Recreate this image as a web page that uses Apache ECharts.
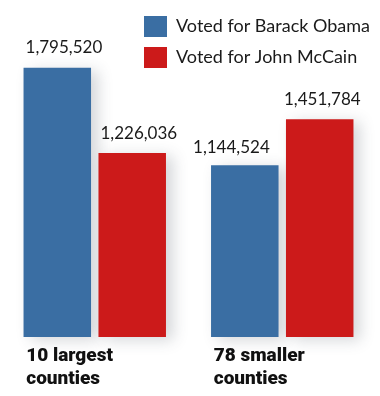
<!DOCTYPE html>
<html><head><meta charset="utf-8">
<script src="https://cdn.jsdelivr.net/npm/echarts@6/dist/echarts.min.js"></script>
<style>html,body{margin:0;padding:0;background:#fff}#c{width:380px;height:396px}</style>
</head><body><div id="c"></div>
<script>
var categories = ['10 largest\ncounties', '78 smaller\ncounties'];
var seriesNames = ['Voted for Barack Obama', 'Voted for John McCain'];
var obamaVotes = [1795520, 1144524];
var mccainVotes = [1226036, 1451784];
var colors = ['#3a6ea3', '#cc1a1a'];
// label placement per bar (layout only)
var obamaLabelPos = [[2, -20], [-18, -18]];
var mccainLabelPos = [[2, -20], [-2, -20]];

function fmt(v){ return v.toLocaleString('en-US'); }
function mk(vals, pos){
  return vals.map(function(v, i){
    return { value: v, label: { position: pos[i] } };
  });
}
var chart = echarts.init(document.getElementById('c'), null, {renderer:'canvas'});
var labelStyle = {
  show: true, align: 'left', verticalAlign: 'middle',
  fontFamily: 'Lato', fontSize: 17, color: '#1a1a1a',
  formatter: function(p){ return fmt(p.value); }
};
var itemShadow = { shadowBlur: 14, shadowOffsetX: 7, shadowOffsetY: 3, shadowColor: 'rgba(60,70,80,0.22)' };
chart.setOption({
  animation: false,
  legend: {
    orient: 'vertical', left: 139, top: 11,
    itemWidth: 23, itemHeight: 21, itemGap: 10,
    icon: 'rect',
    textStyle: { fontFamily: 'Lato', fontSize: 18, color: '#1a1a1a', padding: [0,0,0,4] },
    data: seriesNames
  },
  grid: { left: 1, width: 375, top: 37, bottom: 59, containLabel: false },
  xAxis: {
    type: 'category', data: categories,
    axisLine: { show: false }, axisTick: { show: false },
    axisLabel: {
      margin: 8, align: 'center', verticalAlign: 'top',
      formatter: function(v){ return v.split('\n').map(function(s){ return '{a|' + s + '}'; }).join('\n'); },
      rich: { a: { width: 137, align: 'left', fontFamily: 'Roboto', fontWeight: 900, fontSize: 19, lineHeight: 23, color: '#111' } }
    }
  },
  yAxis: { type: 'value', min: 0, max: 2000000, show: false, splitLine: { show: false } },
  series: [
    { name: seriesNames[0], type: 'bar', data: mk(obamaVotes, obamaLabelPos), barWidth: 67.5, barGap: '11%',
      itemStyle: Object.assign({ color: colors[0] }, itemShadow), label: labelStyle },
    { name: seriesNames[1], type: 'bar', data: mk(mccainVotes, mccainLabelPos), barWidth: 67.5, barGap: '11%',
      itemStyle: Object.assign({ color: colors[1] }, itemShadow), label: labelStyle }
  ]
});
</script></body></html>
